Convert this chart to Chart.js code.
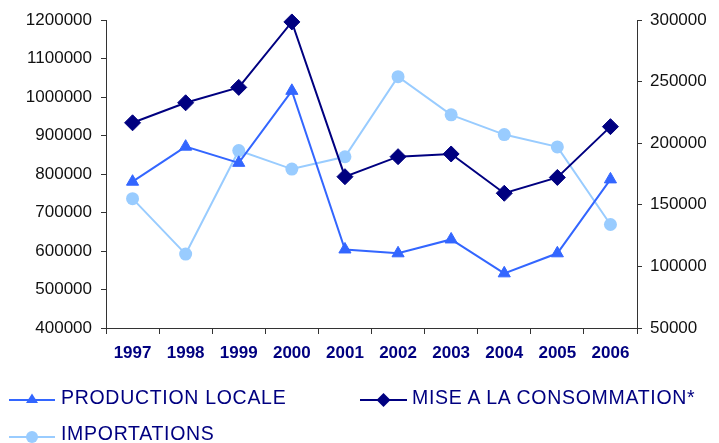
<!DOCTYPE html>
<html>
<head>
<meta charset="utf-8">
<script src="https://cdn.jsdelivr.net/npm/chart.js@4/dist/chart.umd.min.js"></script>
<style>
  html, body { margin: 0; padding: 0; background: #fff; }
  #wrap { position: relative; width: 719px; height: 443px; overflow: hidden; }
  #box { position: absolute; left: 0; top: 0; width: 719px; height: 375px; }
  .lg { position: absolute; font-family: "Liberation Sans", Arial, sans-serif; font-size: 19.5px; line-height: 19.5px; letter-spacing: 0.7px; color: #000080; white-space: nowrap; }
  svg.sym { position: absolute; overflow: visible; }
</style>
</head>
<body>
<div id="wrap">
  <div id="box"><canvas id="c"></canvas></div>
  <svg class="sym" style="left:0;top:0" width="719" height="443">
    <line x1="9" y1="400" x2="55" y2="400" stroke="#3366FF" stroke-width="2"/>
    <polygon points="32,393.5 38,403 26,403" fill="#3366FF"/>
    <line x1="360" y1="400" x2="407" y2="400" stroke="#000080" stroke-width="2"/>
    <polygon points="383.5,393 390.5,400 383.5,407 376.5,400" fill="#000080"/>
    <line x1="9" y1="437" x2="55" y2="437" stroke="#99CCFF" stroke-width="2"/>
    <circle cx="32" cy="437" r="6" fill="#99CCFF"/>
  </svg>
  <div class="lg" style="left:61px;top:388px">PRODUCTION LOCALE</div>
  <div class="lg" style="left:412px;top:388px">MISE A LA CONSOMMATION*</div>
  <div class="lg" style="left:61px;top:424px">IMPORTATIONS</div>
</div>
<script>
const years = ['1997','1998','1999','2000','2001','2002','2003','2004','2005','2006'];
const productionLocale = [780000, 871000, 829000, 1016000, 604000, 594000, 630000, 542000, 594000, 786000];
const miseConsommation = [933000, 985000, 1025000, 1195000, 793000, 845000, 852000, 750000, 791000, 923000];
const importations = [155000, 110000, 194000, 179000, 189000, 254000, 223000, 207000, 197000, 134000];
const leftTicks = { min: 400000, max: 1200000, step: 100000 };
const rightTicks = { min: 50000, max: 300000, step: 50000 };

const tickFont = { family: "'Liberation Sans', Arial, sans-serif", size: 17 };
const plain = v => String(v);

new Chart(document.getElementById('c'), {
  type: 'line',
  data: {
    labels: years,
    datasets: [
      {
        label: 'PRODUCTION LOCALE', data: productionLocale, yAxisID: 'y',
        borderColor: '#3366FF', backgroundColor: '#3366FF', borderWidth: 2,
        pointStyle: 'triangle', pointRadius: 7, pointHoverRadius: 7, pointBorderWidth: 1, tension: 0, clip: false
      },
      {
        label: 'MISE A LA CONSOMMATION*', data: miseConsommation, yAxisID: 'y',
        borderColor: '#000080', backgroundColor: '#000080', borderWidth: 2,
        pointStyle: 'rectRot', pointRadius: 8, pointHoverRadius: 8, pointBorderWidth: 1, tension: 0, clip: false
      },
      {
        label: 'IMPORTATIONS', data: importations, yAxisID: 'y1',
        borderColor: '#99CCFF', backgroundColor: '#99CCFF', borderWidth: 2,
        pointStyle: 'circle', pointRadius: 6.5, pointHoverRadius: 6.5, pointBorderWidth: 0, tension: 0, clip: false
      }
    ]
  },
  options: {
    responsive: true,
    maintainAspectRatio: false,
    animation: false,
    layout: { padding: { top: 20, left: 0, right: 0, bottom: 0 } },
    plugins: { legend: { display: false }, tooltip: { enabled: false } },
    scales: {
      x: {
        offset: true,
        grid: { offset: true, drawOnChartArea: false, tickLength: 6, color: '#333' },
        border: { color: '#333', width: 1 },
        ticks: { color: '#000080', font: { ...tickFont, weight: 'bold' }, padding: 9, maxRotation: 0 },
        afterFit: s => { s.height = 47; }
      },
      y: {
        position: 'left',
        min: leftTicks.min, max: leftTicks.max,
        grid: { drawOnChartArea: false, tickLength: 5, color: '#333' },
        border: { color: '#333', width: 1 },
        ticks: { stepSize: leftTicks.step, color: '#111', font: tickFont, padding: 9, callback: plain },
        afterFit: s => { s.width = 106; }
      },
      y1: {
        position: 'right',
        min: rightTicks.min, max: rightTicks.max,
        grid: { drawOnChartArea: false, tickLength: 5, color: '#333' },
        border: { color: '#333', width: 1 },
        ticks: { stepSize: rightTicks.step, color: '#111', font: tickFont, padding: 8, callback: plain },
        afterFit: s => { s.width = 82; }
      }
    }
  }
});
</script>
</body>
</html>
